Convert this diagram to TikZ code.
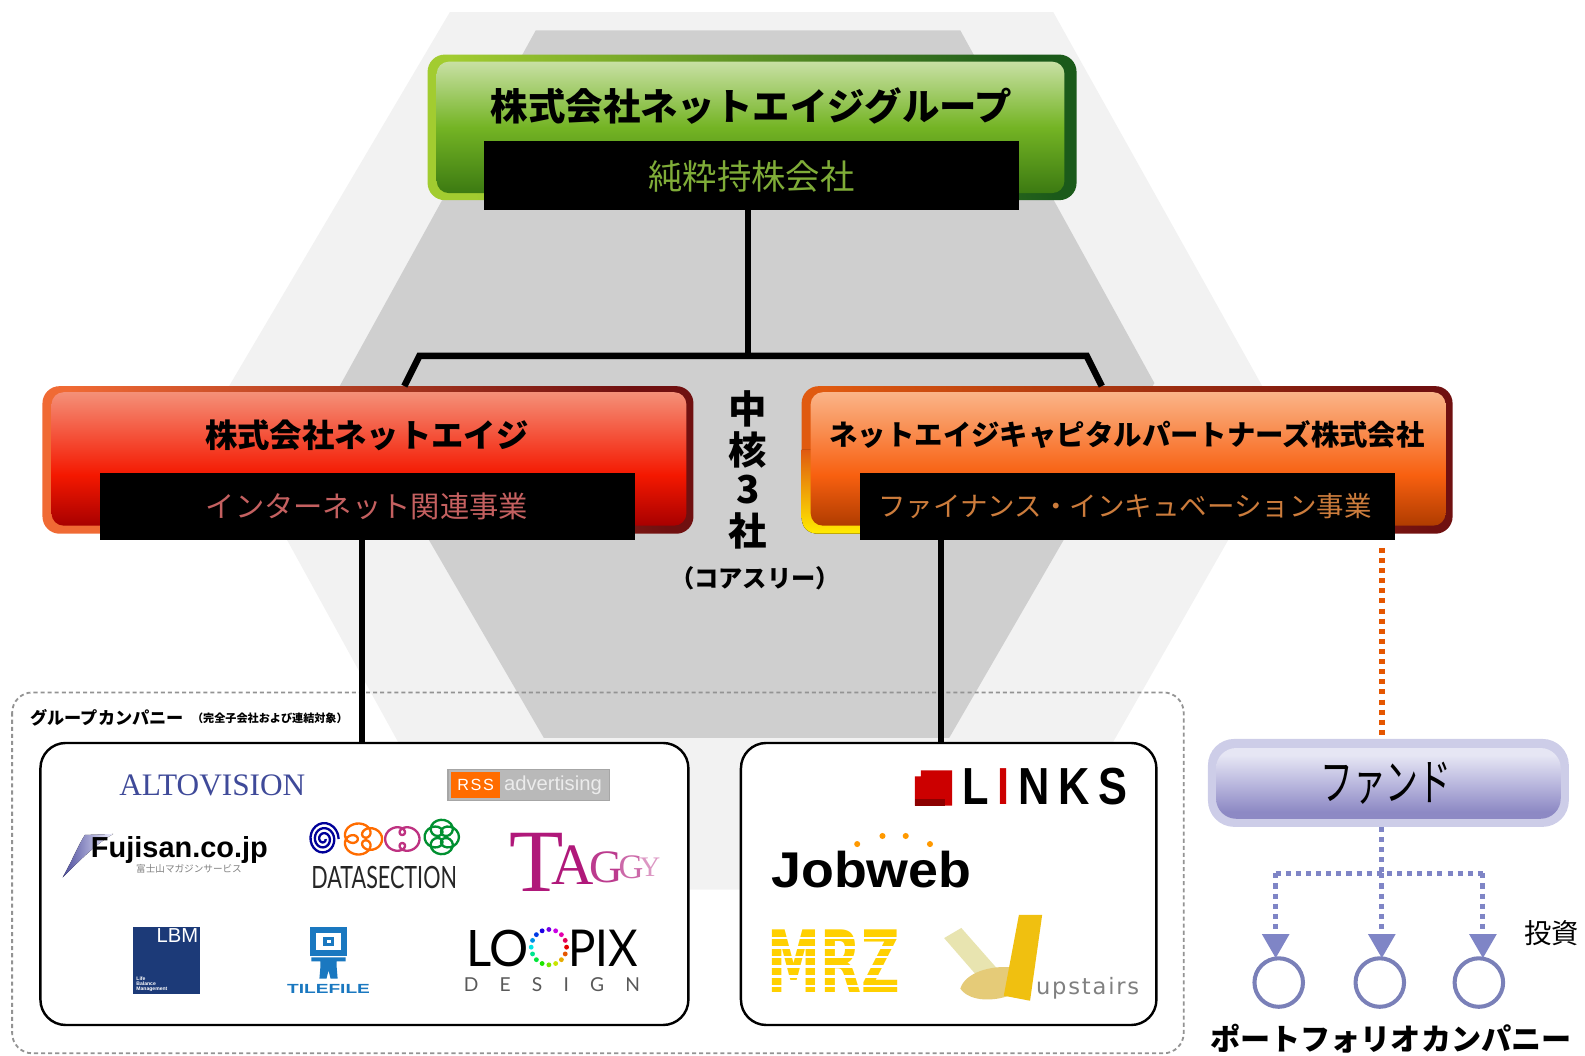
\documentclass[tikz,border=0pt]{standalone}
\usepackage{fontspec}
\usetikzlibrary{arrows.meta,shapes.geometric,calc}
\setmainfont{Liberation Sans}
\newfontfamily\jpf{Noto Sans CJK JP}
\newfontfamily\serf{Liberation Serif}
\newfontfamily\latof{Lato}
\newfontfamily\djv{DejaVu Sans}
\newfontfamily\djvs[LetterSpace=8]{DejaVu Sans}
\newfontfamily\rsss[LetterSpace=10]{Liberation Sans}
\newcommand{\jr}[2]{{\jpf\fontsize{#1}{#1}\selectfont #2}}
\newcommand{\jb}[2]{{\jpf\bfseries\fontsize{#1}{#1}\selectfont #2}}
\newcommand{\fs}[1]{\fontsize{#1}{#1}\selectfont}
\definecolor{hexlight}{HTML}{F2F2F2}
\definecolor{hexdark}{HTML}{CFCFCF}
\definecolor{dotpurple}{HTML}{7F85C6}
\definecolor{ringpurple}{HTML}{7A80B8}
\definecolor{gTop}{HTML}{C8E0A4}
\definecolor{gMid}{HTML}{74B424}
\definecolor{gBot}{HTML}{3C7A12}
\definecolor{gL}{HTML}{A2CC30}
\definecolor{gR}{HTML}{1B5A1A}
\definecolor{rTop}{HTML}{F49078}
\definecolor{rMid}{HTML}{F41800}
\definecolor{rBot}{HTML}{A80000}
\definecolor{rL}{HTML}{F06A34}
\definecolor{rR}{HTML}{701010}
\definecolor{oTop}{HTML}{FAB488}
\definecolor{oMid}{HTML}{F86010}
\definecolor{oBot}{HTML}{B03C00}
\definecolor{oL}{HTML}{E05A10}
\definecolor{oR}{HTML}{701010}
\definecolor{fTop}{HTML}{E6E6F4}
\definecolor{fMid}{HTML}{BAB8DE}
\definecolor{fBot}{HTML}{8D89C4}
\definecolor{fOut}{HTML}{CDCDE8}
\pgfdeclareverticalshading{gshade}{100bp}{color(0bp)=(gBot); color(25bp)=(gBot); color(50bp)=(gMid); color(75bp)=(gTop); color(100bp)=(gTop)}
\pgfdeclareverticalshading{rshade}{100bp}{color(0bp)=(rBot); color(25bp)=(rBot); color(44bp)=(rMid); color(75bp)=(rTop); color(100bp)=(rTop)}
\pgfdeclareverticalshading{oshade}{100bp}{color(0bp)=(oBot); color(25bp)=(oBot); color(44bp)=(oMid); color(75bp)=(oTop); color(100bp)=(oTop)}
\pgfdeclareverticalshading{fshade}{100bp}{color(0bp)=(fBot); color(30bp)=(fBot); color(50bp)=(fMid); color(70bp)=(fTop); color(100bp)=(fTop)}
\definecolor{gSub}{HTML}{7FAC38}
\definecolor{rSub}{HTML}{C46060}
\definecolor{oSub}{HTML}{CC7C3C}
\definecolor{altoc}{HTML}{3F4A99}
\definecolor{taggyc}{HTML}{B0187A}
\definecolor{lbmc}{HTML}{1C3A78}
\definecolor{tilec}{HTML}{1A78C0}
\definecolor{mrzc}{HTML}{FFD000}
\definecolor{upY}{HTML}{F0C010}
\definecolor{upP}{HTML}{E8E4B0}
\definecolor{upB}{HTML}{E5CB78}
\tikzset{
  outerbox/.style={rounded corners=17pt,minimum height=146pt,minimum width=644pt,inner sep=0pt,outer sep=0pt},
  innerbox/.style={rounded corners=12pt,inner sep=0pt,outer sep=0pt},
  blackbar/.style={fill=black,minimum width=529pt,inner sep=0pt,outer sep=0pt},
  conn/.style={line width=6.5pt,black},
  logobox/.style={draw=black,line width=2.4pt,fill=white,rounded corners=25pt,inner sep=0pt,outer sep=0pt,minimum height=279pt},
  portcircle/.style={circle,draw=ringpurple,line width=4pt,minimum size=48pt,inner sep=0pt,outer sep=0pt},
  investline/.style={dotpurple,line width=5pt,dash pattern=on 5pt off 5pt},
  investarrow/.style={investline,-{Triangle[width=26pt,length=24pt,fill=dotpurple]}},
  txt/.style={inner sep=0pt,outer sep=0pt}
}
\begin{document}
\begin{tikzpicture}[x=1pt,y=-1pt]
\useasboundingbox (0,0) rectangle (1568,1043.7);
% hexagons
\fill[hexlight] (445,12) -- (1042,12) -- (1275,429) -- (1018,880) -- (474,880) -- (213,405) -- cycle;
\fill[hexdark] (530,30) -- (950,30) -- (1142,379) -- (939,730) -- (538,730) -- (336,382) -- cycle;
% dashed frame
\draw[gray!85,line width=1.8pt,dash pattern=on 4pt off 3pt,rounded corners=20pt] (12,685) rectangle (1171,1042);
% top box
\node[outerbox,minimum width=642pt,minimum height=144pt,left color=gL,right color=gR,shading angle=100] (groupouter) at (744,126) {};
\node[innerbox,minimum width=621pt,minimum height=130pt,shading=gshade] (groupinner) at (742.5,126) {};
\node[blackbar,minimum height=69pt] (groupsub) at (743.5,173.5) {};
\node[txt] (grouptitle) at (743.5,105) {\jb{37}{株式会社ネットエイジグループ}};
\node[txt,text=gSub] (grouprole) at (743.5,175) {\jr{34}{純粋持株会社}};
% red box
\node[outerbox,left color=rL,right color=rR,shading angle=105] (redouter) at (364,455) {};
\node[innerbox,minimum width=628pt,minimum height=132pt,shading=rshade] (redinner) at (365,454) {};
\node[blackbar,minimum height=66pt] (redsub) at (363.5,501) {};
\node[txt] (redtitle) at (363,431) {\jb{32}{株式会社ネットエイジ}};
\node[txt,text=rSub] (redrole) at (363,501) {\jr{29}{インターネット関連事業}};
% orange box
\node[outerbox,left color=oL,right color=oR,shading angle=100] (orgouter) at (1115,455) {};
\fill[top color=oL,bottom color=yellow!85!orange] (793,445) -- (793,511) .. controls (793,522) and (799,528) .. (810,528) -- (860,528) -- (860,445) -- cycle;
\node[innerbox,minimum width=628pt,minimum height=132pt,shading=oshade] (orginner) at (1116,454) {};
\node[blackbar,minimum height=66pt] (orgsub) at (1115.5,501) {};
\node[txt] (orgtitle) at (1115,430) {\jb{28.1}{ネットエイジキャピタルパートナーズ株式会社}};
\node[txt,text=oSub] (orgrole) at (1113,501) {\jr{27.2}{ファイナンス・インキュベーション事業}};
% core label
\node[txt] (core1) at (740,405) {\jb{38}{中}};
\node[txt] (core2) at (740,445) {\jb{38}{核}};
\node[txt] (core3) at (740,484) {\jb{38}{3}};
\node[txt] (core4) at (740,525) {\jb{38}{社}};
\node[txt] (corename) at (747,572) {\jb{24}{（コアスリー）}};
% group label
\node[txt,anchor=west] (grouplabel) at (30,710) {\jb{17}{グループカンパニー}};
\node[txt,anchor=west] (groupnote) at (190,711) {\jb{11}{（完全子会社および連結対象）}};
% logo boxes
\node[logobox,minimum width=641pt] (grpbox) at (360.5,874.5) {};
\node[logobox,minimum width=411pt] (lnkbox) at (938.5,874.5) {};
% connectors
\coordinate (hubtop) at (740,352);
\coordinate (hubl) at (415,352);
\coordinate (hubr) at (1075,352);
\coordinate (legl) at (400,382);
\coordinate (legr) at (1090,382);
\coordinate (xl) at (358,0);
\coordinate (xr) at (931,0);
\coordinate (xd) at (1367,0);
\draw[conn] (groupsub.south -| hubtop) -- (hubtop);
\draw[conn,line join=miter] (legl) -- (hubl) -- (hubr) -- (legr);
\draw[conn] (xl |- redsub.south) -- (xl |- grpbox.north);
\draw[conn] (xr |- orgsub.south) -- (xr |- lnkbox.north);
% fund
\node[rounded corners=26pt,fill=fOut,minimum width=357pt,minimum height=87pt,inner sep=0pt,outer sep=0pt] (fundouter) at (1373.5,774.5) {};
\node[rounded corners=20pt,shading=fshade,minimum width=341pt,minimum height=70pt,inner sep=0pt,outer sep=0pt] (fundinner) at (1373.5,775) {};
\node[txt] (fundtitle) at (1371,775) {\resizebox{130pt}{38pt}{\jr{33}{ファンド}}};
\draw[draw=orange!75!red!90!black,line width=6pt,dash pattern=on 5pt off 5pt] (xd |- orgsub.south) ++(0,8) -- (xd |- fundouter.north);
% portfolio
\node[portcircle] (pc1) at (1265,972) {};
\node[portcircle] (pc2) at (1365,972) {};
\node[portcircle] (pc3) at (1463,972) {};
\coordinate (ja) at (1262,864);
\coordinate (jb) at (1367,864);
\coordinate (jc) at (1467,864);
\draw[investline] (xd |- fundouter.south) -- (jb);
\draw[investline] (ja) -- (jc);
\draw[investarrow] (ja) -- (ja |- pc1.north);
\draw[investarrow] (jb) -- (jb |- pc2.north);
\draw[investarrow] (jc) -- (jc |- pc3.north);
\node[txt,anchor=west] (invest) at (1508,923) {\jr{27}{投資}};
\node[txt] (portlabel) at (1376,1028) {\jb{29.8}{ポートフォリオカンパニー}};
% ALTOVISION
\node[txt,text=altoc] (alto) at (210,777) {\resizebox{184pt}{!}{\serf ALTOVISION}};
% RSS
\node[draw=gray!70,line width=1.5pt,fill=gray!55,minimum width=160pt,minimum height=31pt,inner sep=0pt] (rssbox) at (523,776.5) {};
\node[fill=orange!85!red,text=white,minimum width=49pt,minimum height=25pt,inner sep=0pt] (rsstag) at (470.5,776.5) {\rsss\fs{16}RSS};
\node[txt,text=white!85!gray] (rssadv) at (547,776.5) {\fs{20}advertising};
% Fujisan
\fill[left color=blue!45!black!70!white,right color=blue!6!white] (62,868) .. controls (72,850) and (78,835) .. (84,826) -- (112,825) .. controls (95,835) and (80,850) .. cycle;
\node[txt,anchor=west] (fujisan) at (90,841) {\resizebox{175pt}{!}{\bfseries Fujisan.co.jp}};
\node[txt,text=gray] (fujisub) at (187,860) {\jr{9.5}{富士山マガジンサービス}};
% DATASECTION
\draw[blue!60!black,line width=2.3pt] plot[domain=0:1080,samples=70,smooth,variable=\t] ({320+(2+\t/1080*13)*cos(\t)},{830+(2+\t/1080*15)*sin(\t)});
\draw[orange!85!red,line width=2.3pt] plot[domain=0:360,samples=80,smooth,variable=\t] ({358+12*cos(\t)+8*cos(4*\t)},{830+9*sin(\t)+7*sin(4*\t)});
\draw[magenta!75!black,line width=2.3pt] plot[domain=0:360,samples=80,smooth,variable=\t] ({398+10*cos(\t)+7*cos(3*\t)},{830+10*sin(\t)+6*sin(3*\t)});
\draw[green!50!teal!75!black,line width=2.3pt] plot[domain=0:360,samples=80,smooth,variable=\t] ({437+9*cos(\t)+8*cos(5*\t)},{828+10*sin(\t)+7*sin(5*\t)});
\node[txt,text=black!85] (datasec) at (380,868) {\resizebox{144pt}{22pt}{\latof DATASECTION}};
% TAGGY
\node[txt,anchor=base west,text=taggyc] (taggy) at (504,882) {\serf\fs{88}T\kern-12pt\raisebox{7pt}{\fs{58}A}\kern-4pt\raisebox{9pt}{\fs{46}\textcolor{taggyc!85!white}{G}}\kern-5pt\raisebox{13pt}{\fs{34}\textcolor{taggyc!65!white}{G}}\kern-3.5pt\raisebox{15pt}{\fs{28}\textcolor{taggyc!45!white}{Y}}};
% LBM
\node[fill=lbmc,minimum width=66pt,minimum height=66pt,inner sep=0pt] (lbmbox) at (165,950) {};
\node[txt,anchor=north east,text=white] (lbmname) at (196,919) {\fs{20}LBM};
\node[txt,anchor=south west,text=white,align=left,font=\bfseries\fs{5}] (lbmsub) at (135,981) {Life\\Balance\\Management};
% TILEFILE
\fill[tilec] (307,917) rectangle (343,946);
\fill[white] (313,923) rectangle (337,940);
\fill[tilec] (320,927) rectangle (330,936);
\fill[white] (323,930) rectangle (327,933);
\fill[tilec] (308,947) rectangle (342,951) (317,947) rectangle (333,956) (317,956) -- (333,956) -- (334,968) -- (327,968) -- (325,960) -- (323,968) -- (316,968) -- cycle;
\node[txt,text=tilec] (tilefile) at (325,978) {\resizebox{82pt}{9pt}{\bfseries TILEFILE}};
% LOOPIX
\node[txt,anchor=west] (loopl) at (461,938) {\resizebox{62pt}{36pt}{\latof LO}};
\node[txt,anchor=east] (loopr) at (631,938) {\resizebox{69pt}{36pt}{\latof PIX}};
\foreach \i in {0,...,15}{
  \pgfmathsetmacro{\hue}{mod(\i*22.5,360)}
  \definecolor{ringc}{Hsb}{\hue,1,.9}
  \fill[ringc] ({543+17.5*cos(\i*22.5)},{937+17.5*sin(\i*22.5)}) circle (2.4pt);
}
\node[txt,text=black!65] (loopd) at (546,974) {\latof\fs{19}D\hspace{21pt}E\hspace{21pt}S\hspace{21pt}I\hspace{21pt}G\hspace{21pt}N};
% LINKS
\fill[red!80!black] (911,762) -- (942,762) -- (942,797) -- (905,797) -- (905,768) -- (911,768) -- cycle;
\fill[red!55!black] (905,790) rectangle (935,797);
\node[txt,anchor=west] (links) at (952,778) {\resizebox{163pt}{36pt}{\bfseries L\hspace{2pt}\textcolor{red!80!black}{I}\hspace{2pt}N\hspace{2pt}K\hspace{2pt}S}};
% Jobweb
\node[txt] (jobweb) at (862,860) {\resizebox{198pt}{36pt}{\bfseries Jobweb}};
\foreach \px/\py in {848/835,873/827,896/827,920/835}{\fill[orange!80!yellow] (\px,\py) circle (3pt);}
% MRZ
\node[txt,text=mrzc] (mrz) at (825,951) {\resizebox{131pt}{62pt}{\bfseries\djv MRZ}};
\foreach \sy in {926.5,936,945.5,955,964.5,974}{\fill[white] (758,\sy) rectangle (893,\sy+2.6);}
% upstairs
\fill[upP] (934,928) -- (951,918) -- (988,960) -- (974,974) -- cycle;
\fill[upB] (950,978) .. controls (955,962) and (980,955) .. (1000,957) -- (998,985) .. controls (985,990) and (960,992) .. cycle;
\fill[upY] (1008,905) -- (1031,905) -- (1019,990) -- (993,985) -- cycle;
\node[txt,text=gray,anchor=west] (upstairs) at (1025,978) {\resizebox{102pt}{!}{\djvs\fs{18}upstairs}};
\end{tikzpicture}
\end{document}
